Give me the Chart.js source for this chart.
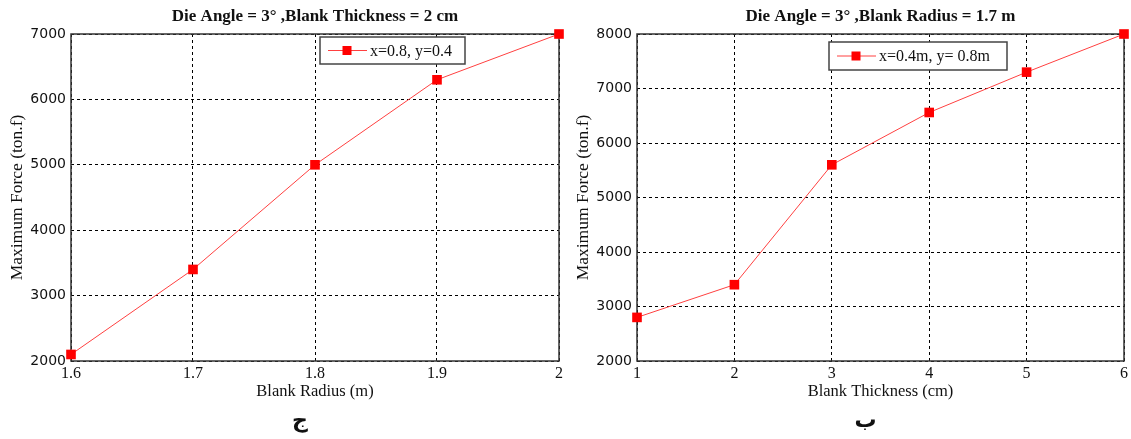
<!DOCTYPE html>
<html>
<head>
<meta charset="utf-8">
<script src="https://cdn.jsdelivr.net/npm/chart.js@4.4.0/dist/chart.umd.min.js"></script>
<style>
  body { margin: 0; background: #fff; }
  .wrap { position: absolute; top: 0; height: 439px; }
  #leftWrap { left: 0; width: 566px; }
  #rightWrap { left: 566px; width: 565px; }
</style>
</head>
<body>
<div class="wrap" id="leftWrap"><canvas id="radiusChart"></canvas></div>
<div class="wrap" id="rightWrap"><canvas id="thicknessChart"></canvas></div>
<script>
// blank radius run (thickness fixed at 2 cm)
const radiusValues = [1.6, 1.7, 1.8, 1.9, 2];
const radiusForce = [2100, 3400, 5000, 6300, 7000];
const radiusTicks = [1.6, 1.7, 1.8, 1.9, 2];
const radiusForceTicks = [2000, 3000, 4000, 5000, 6000, 7000];

// blank thickness run (radius fixed at 1.7 m)
const thicknessValues = [1, 2, 3, 4, 5, 6];
const thicknessForce = [2800, 3400, 5600, 6560, 7300, 8000];
const thicknessTicks = [1, 2, 3, 4, 5, 6];
const thicknessForceTicks = [2000, 3000, 4000, 5000, 6000, 7000, 8000];

const serif = 'Liberation Serif, Times New Roman, serif';
const lineRed = '#ff4040';
const markRed = '#ff0000';

// box around the plot, legend inside it, panel letter under it
const frameAndLegend = {
    id: 'frameAndLegend',
    beforeDatasetsDraw(chart) {
        const a = chart.chartArea;
        const ctx = chart.ctx;
        ctx.save();
        ctx.strokeStyle = '#333';
        ctx.lineWidth = 1.5;
        ctx.strokeRect(a.left, a.top, a.right - a.left, a.bottom - a.top);
        ctx.restore();
    },
    afterDatasetsDraw(chart, args, opts) {
        const ctx = chart.ctx;
        const b = opts.box;
        const ds = chart.data.datasets[0];
        ctx.save();
        ctx.fillStyle = '#fff';
        ctx.fillRect(b.x, b.y, b.w, b.h);
        ctx.strokeStyle = '#444';
        ctx.lineWidth = 1.5;
        ctx.strokeRect(b.x, b.y, b.w, b.h);
        const cy = b.y + b.h / 2;
        ctx.strokeStyle = lineRed;
        ctx.lineWidth = 1;
        ctx.beginPath();
        ctx.moveTo(b.x + 8, cy);
        ctx.lineTo(b.x + 47, cy);
        ctx.stroke();
        ctx.fillStyle = markRed;
        ctx.fillRect(b.x + 27 - 4.5, cy - 4.5, 9, 9);
        ctx.fillStyle = '#111';
        ctx.font = '16px ' + serif;
        ctx.textBaseline = 'middle';
        ctx.fillText(ds.label, b.x + 50, cy + 1);

        // panel letter
        const a = chart.chartArea;
        ctx.font = 'bold 22px DejaVu Sans';
        ctx.textAlign = 'center';
        ctx.textBaseline = 'alphabetic';
        ctx.fillStyle = '#111';
        ctx.fillText(opts.letter, (a.left + a.right) / 2 - 15, 427);
        ctx.restore();
    }
};

function makeChart(canvasId, xs, ys, xTicks, yTicks, title, xTitle, yTitle, letter, label, box, rightPad) {
    const ctx = document.getElementById(canvasId).getContext('2d');
    return new Chart(ctx, {
        type: 'line',
        data: {
            datasets: [{
                label: label,
                data: xs.map((x, i) => ({ x: x, y: ys[i] })),
                borderColor: lineRed,
                borderWidth: 1,
                backgroundColor: markRed,
                pointBackgroundColor: markRed,
                pointBorderColor: markRed,
                pointBorderWidth: 0,
                pointStyle: 'rect',
                pointRadius: 6.8,
                tension: 0,
                clip: false
            }]
        },
        options: {
            responsive: true,
            maintainAspectRatio: false,
            animation: false,
            layout: { padding: { left: 0, right: rightPad, top: 0, bottom: 24 } },
            plugins: {
                legend: { display: false },
                tooltip: { enabled: false },
                title: {
                    display: true,
                    fullSize: false,
                    text: title,
                    color: '#111',
                    font: { family: serif, size: 17, weight: 'bold' },
                    padding: { top: 6.8, bottom: 6.8 }
                },
                frameAndLegend: { box: box, letter: letter }
            },
            scales: {
                x: {
                    type: 'linear',
                    min: xTicks[0],
                    max: xTicks[xTicks.length - 1],
                    afterBuildTicks: scale => { scale.ticks = xTicks.map(v => ({ value: v })); },
                    afterFit: scale => { scale.height = 54; },
                    grid: { color: '#000', lineWidth: 1, drawTicks: false },
                    border: { display: false, dash: [3, 3] },
                    ticks: {
                        color: '#111',
                        padding: 3,
                        maxRotation: 0,
                        font: { family: serif, size: 16 },
                        callback: v => String(+v.toFixed(1))
                    },
                    title: {
                        display: true,
                        text: xTitle,
                        color: '#111',
                        font: { family: serif, size: 16.5 },
                        padding: { top: 0, bottom: 13.4 }
                    }
                },
                y: {
                    min: yTicks[0],
                    max: yTicks[yTicks.length - 1],
                    afterBuildTicks: scale => { scale.ticks = yTicks.map(v => ({ value: v })); },
                    afterFit: scale => { scale.width = 71; },
                    grid: { color: '#000', lineWidth: 1, drawTicks: false },
                    border: { display: false, dash: [3, 3] },
                    ticks: {
                        color: '#111',
                        padding: 5,
                        font: { family: 'DejaVu Sans', size: 14 },
                        callback: v => String(v)
                    },
                    title: {
                        display: true,
                        text: yTitle,
                        color: '#111',
                        font: { family: serif, size: 17.5 },
                        padding: { top: 7, bottom: 0 }
                    }
                }
            }
        },
        plugins: [frameAndLegend]
    });
}

makeChart('radiusChart', radiusValues, radiusForce, radiusTicks, radiusForceTicks,
    'Die Angle = 3\u00b0 ,Blank Thickness = 2 cm', 'Blank Radius (m)', 'Maximum Force (ton.f)',
    '\u062c', 'x=0.8, y=0.4', { x: 320, y: 37, w: 145, h: 27 }, 7);

makeChart('thicknessChart', thicknessValues, thicknessForce, thicknessTicks, thicknessForceTicks,
    'Die Angle = 3\u00b0 ,Blank Radius = 1.7 m', 'Blank Thickness (cm)', 'Maximum Force (ton.f)',
    '\u0628', 'x=0.4m, y= 0.8m', { x: 263, y: 42, w: 178, h: 28 }, 6);
</script>
</body>
</html>
